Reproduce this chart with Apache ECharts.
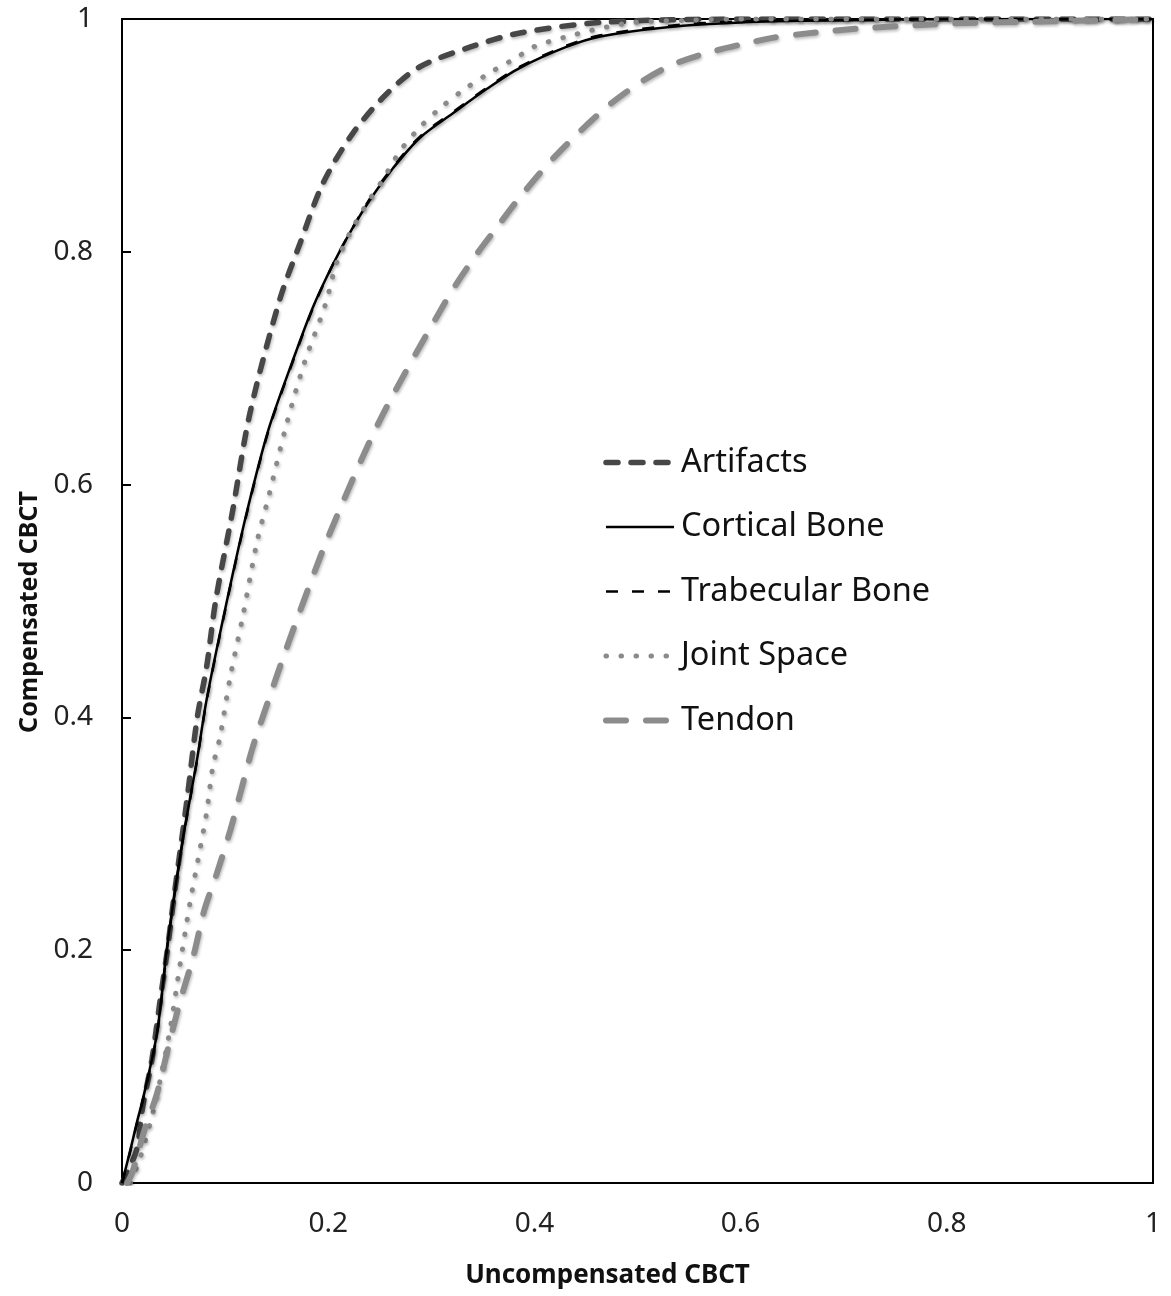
<!DOCTYPE html>
<html>
<head>
<meta charset="utf-8">
<script src="https://cdn.jsdelivr.net/npm/echarts@6/dist/echarts.min.js"></script>
<style>
  html, body { margin: 0; padding: 0; background: #fff; }
  #container { width: 1171px; height: 1296px; }
</style>
</head>
<body>
<div id="container"></div>
<script>
// values, x = uncompensated, y = compensated
var artifactsX = [0, 0.014, 0.020, 0.029, 0.037, 0.044, 0.050, 0.063, 0.073, 0.082, 0.091, 0.107, 0.124, 0.153, 0.173, 0.195, 0.224, 0.257, 0.289, 0.338, 0.386, 0.464, 0.6, 0.8, 1];
var artifactsY = [0, 0.028, 0.065, 0.106, 0.157, 0.2, 0.243, 0.329, 0.4, 0.443, 0.501, 0.576, 0.661, 0.759, 0.808, 0.859, 0.902, 0.936, 0.959, 0.976, 0.988, 0.997, 1, 1, 1];

var corticalX = [0, 0.008, 0.015, 0.02, 0.034, 0.044, 0.058, 0.073, 0.082, 0.102, 0.121, 0.142, 0.165, 0.185, 0.205, 0.224, 0.243, 0.263, 0.289, 0.321, 0.354, 0.386, 0.431, 0.464, 0.529, 0.6, 0.7, 0.8, 0.9, 1];
var corticalY = [0, 0.028, 0.054, 0.071, 0.129, 0.205, 0.29, 0.365, 0.415, 0.501, 0.576, 0.647, 0.705, 0.752, 0.79, 0.821, 0.848, 0.872, 0.898, 0.919, 0.94, 0.958, 0.976, 0.985, 0.993, 0.997, 0.999, 1, 1, 1];

var trabecularX = [0, 0.008, 0.015, 0.02, 0.034, 0.044, 0.058, 0.073, 0.082, 0.102, 0.121, 0.142, 0.165, 0.185, 0.205, 0.224, 0.243, 0.263, 0.289, 0.321, 0.354, 0.386, 0.431, 0.464, 0.529, 0.6, 0.7, 0.8, 0.9, 1];
var trabecularY = [0, 0.027, 0.053, 0.070, 0.128, 0.203, 0.289, 0.364, 0.414, 0.5, 0.575, 0.646, 0.704, 0.751, 0.79, 0.821, 0.849, 0.873, 0.899, 0.92, 0.941, 0.959, 0.977, 0.986, 0.994, 0.998, 0.999, 1, 1, 1];

var jointX = [0.008, 0.017, 0.029, 0.039, 0.047, 0.056, 0.066, 0.074, 0.082, 0.088, 0.095, 0.105, 0.117, 0.131, 0.142, 0.159, 0.177, 0.197, 0.208, 0.221, 0.238, 0.253, 0.270, 0.289, 0.308, 0.331, 0.357, 0.383, 0.399, 0.432, 0.464, 0.496, 0.55, 0.6, 0.8, 1];
var jointY = [0, 0.02, 0.057, 0.097, 0.134, 0.186, 0.241, 0.279, 0.318, 0.357, 0.383, 0.435, 0.486, 0.551, 0.589, 0.65, 0.705, 0.754, 0.790, 0.816, 0.842, 0.862, 0.887, 0.907, 0.923, 0.939, 0.954, 0.967, 0.976, 0.985, 0.992, 0.997, 0.999, 1, 1, 1];

var tendonX = [0.005, 0.01, 0.022, 0.034, 0.045, 0.056, 0.069, 0.080, 0.092, 0.105, 0.116, 0.127, 0.141, 0.155, 0.170, 0.2, 0.25, 0.315, 0.340, 0.367, 0.386, 0.42, 0.467, 0.5, 0.532, 0.564, 0.6, 0.632, 0.658, 0.703, 0.8, 0.9, 1];
var tendonY = [0, 0.009, 0.046, 0.077, 0.117, 0.155, 0.194, 0.235, 0.266, 0.303, 0.339, 0.375, 0.412, 0.448, 0.485, 0.555, 0.655, 0.759, 0.793, 0.825, 0.847, 0.882, 0.922, 0.944, 0.96, 0.97, 0.978, 0.984, 0.987, 0.991, 0.996, 0.998, 1];

var seriesNames = ['Artifacts', 'Cortical Bone', 'Trabecular Bone', 'Joint Space', 'Tendon'];

function pairs(xs, ys) {
  var out = [];
  for (var i = 0; i < xs.length; i++) {
    out.push([xs[i], ys[i]]);
  }
  return out;
}

var myChart = echarts.init(document.getElementById('container'));

var styles = {
  'Artifacts': { color: '#474747', width: 5.5, type: [12, 13], cap: 'round' },
  'Cortical Bone': { color: '#000', width: 2.5, type: 'solid' },
  'Trabecular Bone': { color: '#000', width: 2.5, type: [12, 14] },
  'Joint Space': { color: '#8a8a8a', width: 5, type: [0.5, 14.5], cap: 'round' },
  'Tendon': { color: '#8c8c8c', width: 6, type: [20, 20], cap: 'round' }
};

var shadow = { shadowColor: 'rgba(0,0,0,0.25)', shadowBlur: 3, shadowOffsetX: 1, shadowOffsetY: 2 };

function lineSeries(name, data) {
  return {
    name: name,
    type: 'line',
    data: data,
    symbol: 'none',
    smooth: 0.3,
    color: styles[name].color,
    itemStyle: { color: styles[name].color },
    lineStyle: Object.assign({}, shadow, styles[name])
  };
}

var legendData = [];
var i;
for (i = 0; i < seriesNames.length; i++) {
  legendData.push({
    name: seriesNames[i],
    itemStyle: { opacity: 0 },
    lineStyle: Object.assign({}, styles[seriesNames[i]])
  });
}

var tickFont = { fontFamily: 'Noto Sans', fontSize: 28, color: '#222' };

var option = {
  animation: false,
  backgroundColor: '#fff',
  grid: {
    left: 122,
    right: 18,
    top: 19,
    bottom: 113,
    show: true,
    borderColor: '#000',
    borderWidth: 2
  },
  legend: {
    orient: 'vertical',
    left: 598,
    top: 441,
    itemWidth: 68,
    itemHeight: 20,
    itemGap: 31.5,
    data: legendData,
    textStyle: {
      fontFamily: 'Noto Sans',
      fontSize: 32.5,
      lineHeight: 32.5,
      color: '#111',
      padding: [0, 0, 0, 2]
    }
  },
  xAxis: {
    type: 'value',
    min: 0,
    max: 1,
    interval: 0.2,
    name: 'Uncompensated CBCT',
    nameLocation: 'middle',
    nameGap: 80,
    nameTextStyle: { fontFamily: 'Noto Sans', fontSize: 26, fontWeight: 'bold', color: '#111', padding: [0, 60, 0, 0] },
    axisLine: { lineStyle: { color: '#000', width: 2 } },
    axisTick: { show: false },
    axisLabel: Object.assign({ margin: 27 }, tickFont),
    splitLine: { show: false }
  },
  yAxis: {
    type: 'value',
    min: 0,
    max: 1,
    interval: 0.2,
    name: 'Compensated CBCT',
    nameLocation: 'middle',
    nameGap: 80,
    nameTextStyle: { fontFamily: 'Noto Sans', fontSize: 25, fontWeight: 'bold', color: '#111', padding: [0, 22, 0, 0] },
    axisLine: { lineStyle: { color: '#000', width: 2 } },
    axisTick: { show: true, inside: true, length: 9, lineStyle: { color: '#000', width: 2 } },
    axisLabel: Object.assign({ margin: 29 }, tickFont),
    splitLine: { show: false }
  },
  series: [
    lineSeries('Artifacts', pairs(artifactsX, artifactsY)),
    lineSeries('Cortical Bone', pairs(corticalX, corticalY)),
    lineSeries('Trabecular Bone', pairs(trabecularX, trabecularY)),
    lineSeries('Joint Space', pairs(jointX, jointY)),
    lineSeries('Tendon', pairs(tendonX, tendonY))
  ]
};

myChart.setOption(option);
</script>
</body>
</html>
